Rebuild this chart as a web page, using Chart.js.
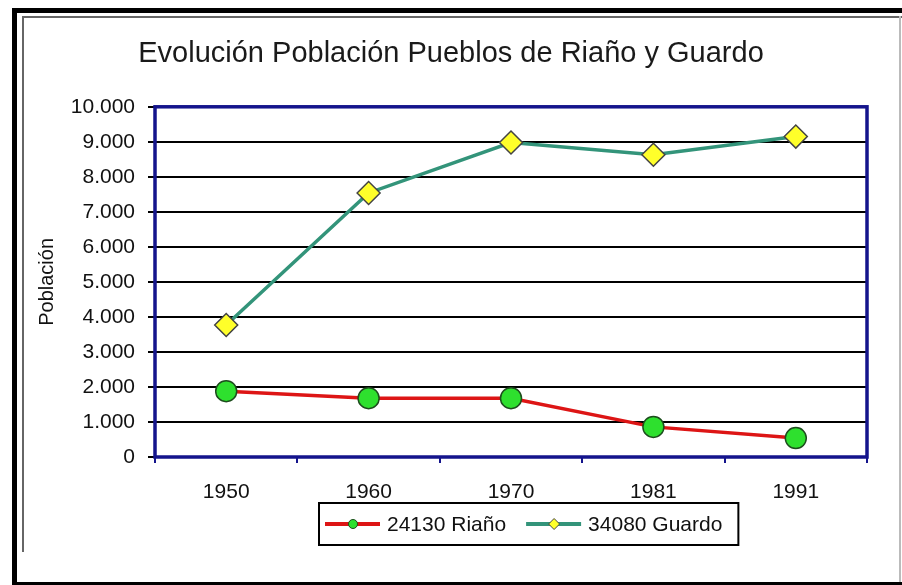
<!DOCTYPE html>
<html lang="es">
<head>
  <meta charset="UTF-8">
  <title>Evolución Población Pueblos de Riaño y Guardo</title>
  <script src="https://cdn.jsdelivr.net/npm/chart.js"></script>
  <style>
    * { margin: 0; padding: 0; box-sizing: border-box; }
    body { background: #fff; width: 902px; height: 585px; overflow: hidden; }
    canvas { display: block; }
  </style>
</head>
<body>
  <canvas id="chart" width="902" height="585"></canvas>

  <script>
    // data
    const years = ['1950', '1960', '1970', '1981', '1991'];
    const riano = [1880, 1680, 1680, 860, 540];
    const guardo = [3770, 7540, 8980, 8630, 9150];
    const yTicks = [0, 1000, 2000, 3000, 4000, 5000, 6000, 7000, 8000, 9000, 10000];

    const FONT = '"Liberation Sans", Arial, sans-serif';
    const NAVY = '#14148c';

    function fmt(v) {
      return String(v).replace(/\B(?=(\d{3})+(?!\d))/g, '.');
    }

    // outer frame of the picture
    const framePlugin = {
      id: 'frame',
      beforeDraw(chart) {
        const c = chart.ctx;
        c.save();
        c.fillStyle = '#fff';
        c.fillRect(0, 0, chart.width, chart.height);
        c.fillStyle = '#000';
        c.fillRect(12, 8, chart.width - 12, 5);
        c.fillRect(12, 8, 5, chart.height - 8);
        c.fillRect(12, 582, chart.width - 12, 3);
        c.fillStyle = '#666';
        c.fillRect(22, 16, chart.width - 22, 2);
        c.fillRect(22, 16, 2, 536);
        c.fillStyle = '#bbb';
        c.fillRect(899, 16, 2, 566);
        c.restore();
      }
    };

    // blue box round the plot area
    const plotBorder = {
      id: 'plotBorder',
      beforeDatasetsDraw(chart) {
        const a = chart.chartArea, c = chart.ctx;
        c.save();
        c.strokeStyle = NAVY;
        c.lineWidth = 3.5;
        c.strokeRect(a.left, a.top, a.right - a.left, a.bottom - a.top);
        c.restore();
      }
    };

    // boxed legend below the x labels
    const boxLegend = {
      id: 'boxLegend',
      afterDraw(chart) {
        const c = chart.ctx;
        const left = 319, top = 503, h = 42, cy = top + h / 2;
        c.save();
        c.font = '21px ' + FONT;
        c.textBaseline = 'middle';
        let x = left + 6;
        chart.data.datasets.forEach(ds => {
          c.strokeStyle = ds.borderColor;
          c.lineWidth = 4;
          c.beginPath();
          c.moveTo(x, cy);
          c.lineTo(x + 55, cy);
          c.stroke();
          c.fillStyle = ds.pointBackgroundColor;
          c.strokeStyle = ds.pointBorderColor;
          c.lineWidth = 1;
          c.beginPath();
          if (ds.pointStyle === 'circle') {
            c.arc(x + 28, cy, 4.5, 0, Math.PI * 2);
          } else {
            c.moveTo(x + 28, cy - 5.5); c.lineTo(x + 33.5, cy);
            c.lineTo(x + 28, cy + 5.5); c.lineTo(x + 22.5, cy); c.closePath();
          }
          c.fill();
          c.stroke();
          c.fillStyle = '#111';
          c.fillText(ds.label, x + 62, cy + 1);
          x += 62 + c.measureText(ds.label).width + 20;
        });
        const right = x - 20 + 16;
        c.strokeStyle = '#000';
        c.lineWidth = 2;
        c.strokeRect(left, top, right - left, h);
        c.restore();
      }
    };

    new Chart(document.getElementById('chart'), {
      type: 'line',
      data: {
        labels: years,
        datasets: [
          {
            label: '24130 Riaño', data: riano,
            borderColor: '#dd1515', borderWidth: 3.5,
            pointStyle: 'circle', pointRadius: 10.5,
            pointBackgroundColor: '#2ee02e', pointBorderColor: '#1d4d1d', pointBorderWidth: 1.5,
            tension: 0
          },
          {
            label: '34080 Guardo', data: guardo,
            borderColor: '#33947a', borderWidth: 3.5,
            pointStyle: 'rectRot', pointRadius: 11.5,
            pointBackgroundColor: '#ffff2a', pointBorderColor: '#444', pointBorderWidth: 1.5,
            tension: 0
          }
        ]
      },
      options: {
        responsive: false,
        animation: false,
        layout: { padding: { left: 35, right: 35, top: 0, bottom: 0 } },
        plugins: {
          legend: { display: false },
          tooltip: { enabled: false },
          title: {
            display: true,
            text: 'Evolución Población Pueblos de Riaño y Guardo',
            color: '#1a1a1a',
            font: { family: FONT, size: 29, weight: 'normal' },
            padding: { top: 37, bottom: 35 }
          }
        },
        scales: {
          x: {
            offset: true,
            grid: { offset: true, drawOnChartArea: false, drawTicks: true, tickLength: 6, color: NAVY, lineWidth: 2 },
            border: { display: false },
            ticks: { color: '#111', padding: 17, font: { family: FONT, size: 21 }, maxRotation: 0 },
            afterFit(scale) { scale.height = 128; }
          },
          y: {
            min: 0, max: 10000,
            afterBuildTicks(scale) { scale.ticks = yTicks.map(v => ({ value: v })); },
            grid: { color: '#000', lineWidth: 2, drawTicks: true, tickLength: 7 },
            border: { display: false },
            ticks: { color: '#111', padding: 13, font: { family: FONT, size: 21 }, callback: v => fmt(v) },
            title: {
              display: true, text: 'Población', color: '#111',
              font: { family: FONT, size: 20 }, padding: 0
            },
            afterFit(scale) { scale.width = 120; }
          }
        }
      },
      plugins: [framePlugin, plotBorder, boxLegend]
    });
  </script>
</body>
</html>
